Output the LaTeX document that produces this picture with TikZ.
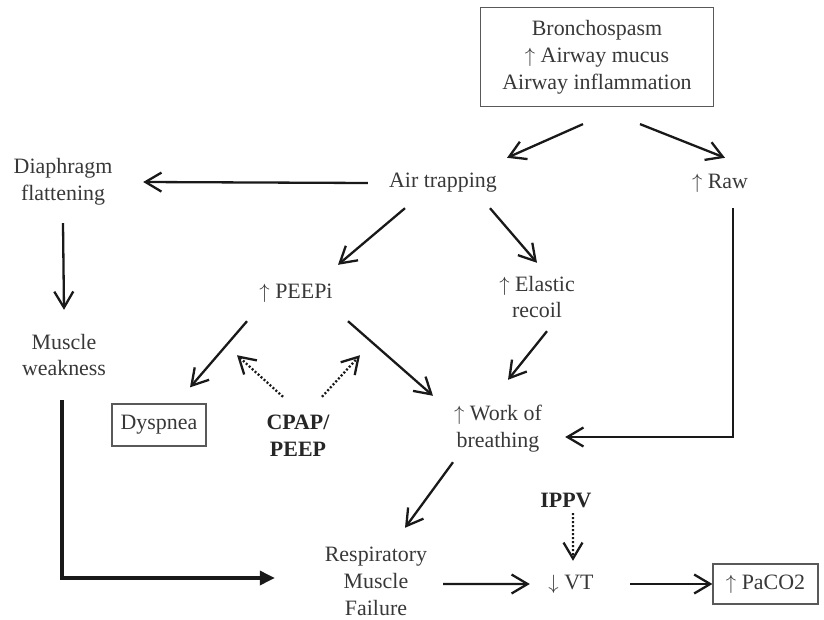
\documentclass[tikz,border=0pt]{standalone}
\usepackage{fontspec}
\setmainfont{Liberation Serif}
\usetikzlibrary{arrows.meta}

\newcommand{\up}{$\uparrow$\ }
\newcommand{\down}{$\downarrow$\ }

\begin{document}
\begin{tikzpicture}[x=1bp, y=-1bp,
        lbl/.style={text=black!78, font=\fontsize{22}{27}\selectfont, align=center, inner sep=0pt},
        hint/.style={lbl, text=black!85, font=\fontsize{22}{27}\selectfont\bfseries},
        boxed/.style={lbl, draw=black!65, line width=1.2bp},
        arr/.style={draw=black!90, line width=2.3bp, -{Straight Barb[length=16bp,width=19bp]}},
        cure/.style={arr, dash pattern=on 2bp off 2bp},
        heavy/.style={draw=black!90, line width=3.4bp, -{Triangle[length=15bp,width=14bp]}}]
    \useasboundingbox (0,0) rectangle (824,620);

    % causes and first effects
    \node[boxed, minimum width=233bp, minimum height=99bp] (cause) at (597,57) {Bronchospasm\\\up Airway mucus\\Airway inflammation};
    \node[lbl, minimum width=150bp, minimum height=50bp] (air) at (443,183) {Air trapping};
    \node[lbl, minimum width=70bp, minimum height=50bp] (raw) at (720,183) {\up Raw};
    \node[lbl, minimum width=160bp, minimum height=82bp] (diaph) at (63,182) {Diaphragm\\flattening};
    \node[lbl, minimum width=110bp, minimum height=56bp] (peepi) at (296,293) {\up PEEPi};
    \node[lbl, minimum width=100bp, minimum height=68bp] (elastic) at (537,297) {\up Elastic\\recoil};
    \node[lbl, minimum width=110bp, minimum height=90bp] (weak) at (64,355) {Muscle\\weakness};
    \node[lbl, minimum width=134bp, minimum height=66bp] (work) at (498,429) {\up Work of\\breathing};
    \node[boxed, minimum width=94bp, minimum height=42bp] (dysp) at (159,425) {Dyspnea};
    \node[hint, minimum height=78bp] (cpap) at (298,436) {CPAP/\\PEEP};

    % failure
    \node[hint, minimum height=26bp] (ippv) at (566,500) {IPPV};
    \node[lbl, minimum width=134bp, minimum height=106bp] (resp) at (376,581) {Respiratory\\Muscle\\Failure};
    \node[lbl, minimum width=82bp, minimum height=46bp] (vt) at (571,584) {\down VT};
    \node[boxed, minimum width=105bp, minimum height=40bp] (paco) at (765.5,584) {\up PaCO2};

    \draw[arr] ([shift={(-14,17)}]cause.south) -- ([xshift=64bp]air.north);
    \draw[arr] ([shift={(43,17)}]cause.south) -- ([xshift=5bp]raw.north);
    \draw[arr] (air.west) -- (diaph.east);
    \draw[arr] ([xshift=-38bp]air.south) -- ([xshift=42bp]peepi.north);
    \draw[arr] ([xshift=47bp]air.south) -- (elastic.north);
    \draw[arr] ([xshift=13bp]raw.south) |- ([yshift=-8bp]work.east);
    \draw[arr] (diaph.south) -- (weak.north);
    \draw[arr] ([xshift=-49bp]peepi.south) -- ([shift={(31,-16)}]dysp.north);
    \draw[arr] ([xshift=52bp]peepi.south) -- ([xshift=-65bp]work.north);
    \draw[arr] ([xshift=10bp]elastic.south) -- ([shift={(10,-16)}]work.north);
    \draw[cure] ([xshift=-15bp]cpap.north) -- ([shift={(-59,34)}]peepi.south);
    \draw[cure] ([xshift=24bp]cpap.north) -- ([shift={(64,34)}]peepi.south);
    \draw[heavy] ([xshift=-2bp]weak.south) |- ([shift={(-34,-3)}]resp.west);
    \draw[arr] ([xshift=-45bp]work.south) -- ([xshift=29bp]resp.north);
    \draw[cure] ([xshift=7bp]ippv.south) -- ([xshift=2bp]vt.north);
    \draw[arr] ([yshift=-3bp]resp.east) -- ([yshift=0bp]vt.west);
    \draw[arr] ([xshift=18bp]vt.east) -- (paco.west);
\end{tikzpicture}
\end{document}
